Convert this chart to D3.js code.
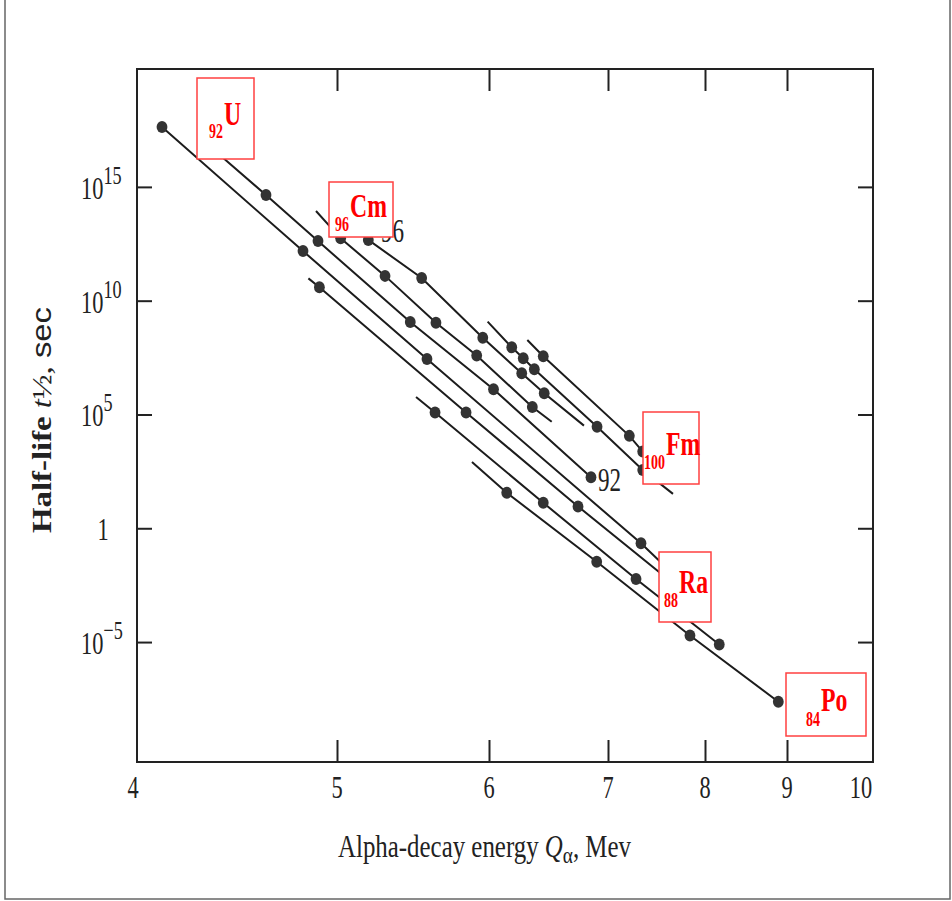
<!DOCTYPE html>
<html>
<head>
<meta charset="utf-8">
<script src="https://cdnjs.cloudflare.com/ajax/libs/d3/7.8.5/d3.min.js"></script>
<style>
  body { margin: 0; background: #fff; }
  text { font-family: "Liberation Serif", "Times New Roman", serif; }
</style>
</head>
<body>
<script>
// alpha-decay energy (MeV) and log10 of half-life (s),
// one pair of arrays per element line, plus where each line runs past its dots
var energyPo = [6.149, 6.905, 7.845, 8.894];
var logTPo   = [1.56, -1.47, -4.71, -7.62];
var endsPo   = [[5.888, 2.91], null];

var energyRn = [5.645, 6.456, 7.289, 8.174];
var logTRn   = [5.09, 1.12, -2.23, -5.11];
var endsRn   = [[5.520, 5.77], null];

var energyRa = [4.912, 5.849, 6.748];
var logTRa   = [10.59, 5.09, 0.96];
var endsRa   = [[4.857, 10.98], [7.845, -3.02]];

var energyTh = [4.125, 4.83, 5.592, 7.340];
var logTTh   = [17.63, 12.18, 7.44, -0.66];
var endsTh   = [null, [7.897, -2.93]];

var energyU  = [4.645, 4.905, 5.482, 6.038, 6.857];
var logTU    = [14.64, 12.62, 9.06, 6.11, 2.24];
var endsU    = [[4.385, 16.62], null];

var energyPu = [5.024, 5.316, 5.651, 5.919, 6.364];
var logTPu   = [12.74, 11.09, 9.03, 7.59, 5.33];
var endsPu   = [[4.895, 13.94], [6.527, 4.68]];

var energyCm = [5.206, 5.557, 5.959, 6.275, 6.464];
var logTCm   = [12.67, 11.00, 8.37, 6.81, 5.93];
var endsCm   = [null, [6.798, 4.51]];

var energyCf = [6.191, 6.288, 6.381, 6.908, 7.358];
var logTCf   = [7.95, 7.47, 6.99, 4.46, 2.56];
var endsCf   = [[5.991, 9.08], [7.670, 1.51]];

var energyFm = [6.456, 7.220, 7.358];
var logTFm   = [7.56, 4.06, 3.37];
var endsFm   = [[6.322, 8.27], [7.588, 2.47]];

var xTickValues = [5, 6, 7, 8, 9];
var xTickLabels = [4, 5, 6, 7, 8, 9, 10];
var yTickExps = [15, 10, 5, 0, -5];

// red element boxes pasted over the figure: subscript Z, symbol
var boxZ = ["92", "96", "100", "88", "84"];
var boxSymbol = ["U", "Cm", "Fm", "Ra", "Po"];

var series = [
  { q: energyPo, lt: logTPo, ends: endsPo },
  { q: energyRn, lt: logTRn, ends: endsRn },
  { q: energyRa, lt: logTRa, ends: endsRa },
  { q: energyTh, lt: logTTh, ends: endsTh },
  { q: energyU,  lt: logTU,  ends: endsU  },
  { q: energyPu, lt: logTPu, ends: endsPu },
  { q: energyCm, lt: logTCm, ends: endsCm },
  { q: energyCf, lt: logTCf, ends: endsCf },
  { q: energyFm, lt: logTFm, ends: endsFm }
];

var W = 952, H = 901;
var mLeft = 137, mRight = 873, mTop = 69, mBottom = 762;
var squeeze = 0.7; // the scan is narrowed sideways, so text is too

var svg = d3.select("body").append("svg")
  .attr("width", W)
  .attr("height", H);

// energy axis of the scan is not uniform: map each tick where it was printed
var x = d3.scaleLinear()
  .domain([4, 5, 6, 7, 8, 9, 10, 10.16])
  .range([mLeft, 337, 489, 608, 705, 787, 861, mRight]);

var y = d3.scaleLog()
  .domain([Math.pow(10, -10.27), Math.pow(10, 20.18)])
  .range([mBottom, mTop]);

function px(q) { return x(q); }
function py(lt) { return y(Math.pow(10, lt)); }

// narrow text helper
function label(g, tx, ty, size, anchor) {
  return g.append("text")
    .attr("transform", "translate(" + tx + "," + ty + ") scale(" + squeeze + ",1)")
    .attr("text-anchor", anchor || "start")
    .style("font-size", size + "px");
}

// outer border of the picture
svg.append("rect")
  .attr("x", 5).attr("y", -5)
  .attr("width", 945).attr("height", 904)
  .attr("fill", "none")
  .attr("stroke", "#666")
  .attr("stroke-width", 1.5);

// ticks, all pointing inwards
function styleAxis(g) {
  g.select(".domain").remove();
  g.selectAll(".tick line").attr("stroke", "#222").attr("stroke-width", 2);
  g.selectAll(".tick text").remove();
}
svg.append("g").attr("transform", "translate(0," + mBottom + ")")
  .call(d3.axisBottom(x).tickValues(xTickValues).tickSize(-22)).call(styleAxis);
svg.append("g").attr("transform", "translate(0," + mTop + ")")
  .call(d3.axisTop(x).tickValues(xTickValues).tickSize(-22)).call(styleAxis);
var yTickVals = yTickExps.map(function (e) { return Math.pow(10, e); });
svg.append("g").attr("transform", "translate(" + mLeft + ",0)")
  .call(d3.axisLeft(y).tickValues(yTickVals).tickSize(-15)).call(styleAxis);
svg.append("g").attr("transform", "translate(" + mRight + ",0)")
  .call(d3.axisRight(y).tickValues(yTickVals).tickSize(-15)).call(styleAxis);

// frame
svg.append("rect")
  .attr("x", mLeft).attr("y", mTop)
  .attr("width", mRight - mLeft).attr("height", mBottom - mTop)
  .attr("fill", "none")
  .attr("stroke", "#222")
  .attr("stroke-width", 2);

// tick labels
var labels = svg.append("g").attr("fill", "#222");
xTickLabels.forEach(function (v) {
  label(labels, px(v) - (v === 4 ? 4 : 0), 798, 32, "middle").text(v);
});
yTickExps.forEach(function (e) {
  var yy = y(Math.pow(10, e)) + 12;
  if (e === 0) {
    label(labels, 103, yy, 32, "middle").text("1");
    return;
  }
  var t = label(labels, 81, yy, 32, "start");
  t.append("tspan").text("10");
  t.append("tspan").attr("dy", -15).style("font-size", "26px")
    .text(e < 0 ? "\u2212" + (-e) : e);
});

// axis titles
svg.append("text")
  .attr("x", 338).attr("y", 857)
  .attr("textLength", 293).attr("lengthAdjust", "spacingAndGlyphs")
  .style("font-size", "31px").attr("fill", "#222")
  .call(function (t) {
    t.append("tspan").text("Alpha-decay energy ");
    t.append("tspan").style("font-style", "italic").text("Q");
    t.append("tspan").attr("dy", 6).style("font-size", "24px").text("\u03b1");
    t.append("tspan").attr("dy", -6).text(", Mev");
  });

svg.append("text")
  .attr("transform", "translate(51,420) rotate(-90)")
  .attr("text-anchor", "middle")
  .attr("textLength", 226).attr("lengthAdjust", "spacingAndGlyphs")
  .style("font-size", "28px").attr("fill", "#222")
  .call(function (t) {
    t.append("tspan").style("font-weight", "bold").text("Half-life ");
    t.append("tspan").style("font-style", "italic").text("t");
    t.append("tspan").text("\u00bd, ");
    t.append("tspan").style("font-family", "'Liberation Sans', Arial, sans-serif").text("sec");
  });

// element lines and their points
var line = d3.line()
  .x(function (d) { return px(d[0]); })
  .y(function (d) { return py(d[1]); });

var plot = svg.append("g");
series.forEach(function (s) {
  var pts = s.q.map(function (q, i) { return [q, s.lt[i]]; });
  var path = pts.slice();
  if (s.ends[0]) path.unshift(s.ends[0]);
  if (s.ends[1]) path.push(s.ends[1]);
  plot.append("path")
    .attr("d", line(path))
    .attr("fill", "none")
    .attr("stroke", "#1c1c1c")
    .attr("stroke-width", 2);
  plot.selectAll(null)
    .data(pts)
    .enter()
    .append("ellipse")
    .attr("cx", function (d) { return px(d[0]); })
    .attr("cy", function (d) { return py(d[1]); })
    .attr("rx", 5.4)
    .attr("ry", 6)
    .attr("fill", "#333");
});

// Z numbers printed at line ends in the original figure
label(svg, 598, 491, 33).attr("fill", "#222").text("92");
label(svg, 381, 242, 33).attr("fill", "#222").text("96");

// red boxes
var boxX = [197, 329, 643, 659, 786];
var boxY = [78, 182, 412, 552, 673];
var boxW = [57, 64, 56, 52, 80];
var boxH = [81, 55, 72, 70, 63];
var subX = [209, 335, 644, 664, 806];
var subY = [138, 231, 469, 607, 726];
var symY = [125, 217, 455, 593, 711];

var boxes = svg.append("g");
boxZ.forEach(function (z, i) {
  boxes.append("rect")
    .attr("x", boxX[i]).attr("y", boxY[i])
    .attr("width", boxW[i]).attr("height", boxH[i])
    .attr("fill", "#fff")
    .attr("stroke", "#ff4040")
    .attr("stroke-width", 1.5);
  var sub = label(boxes, subX[i], subY[i], 20)
    .attr("fill", "#f00").style("font-weight", "bold").text(z);
  var w = sub.node().getComputedTextLength() * squeeze;
  label(boxes, subX[i] + w + 1, symY[i], 34)
    .attr("fill", "#f00").style("font-weight", "bold").text(boxSymbol[i]);
});
</script>
</body>
</html>
